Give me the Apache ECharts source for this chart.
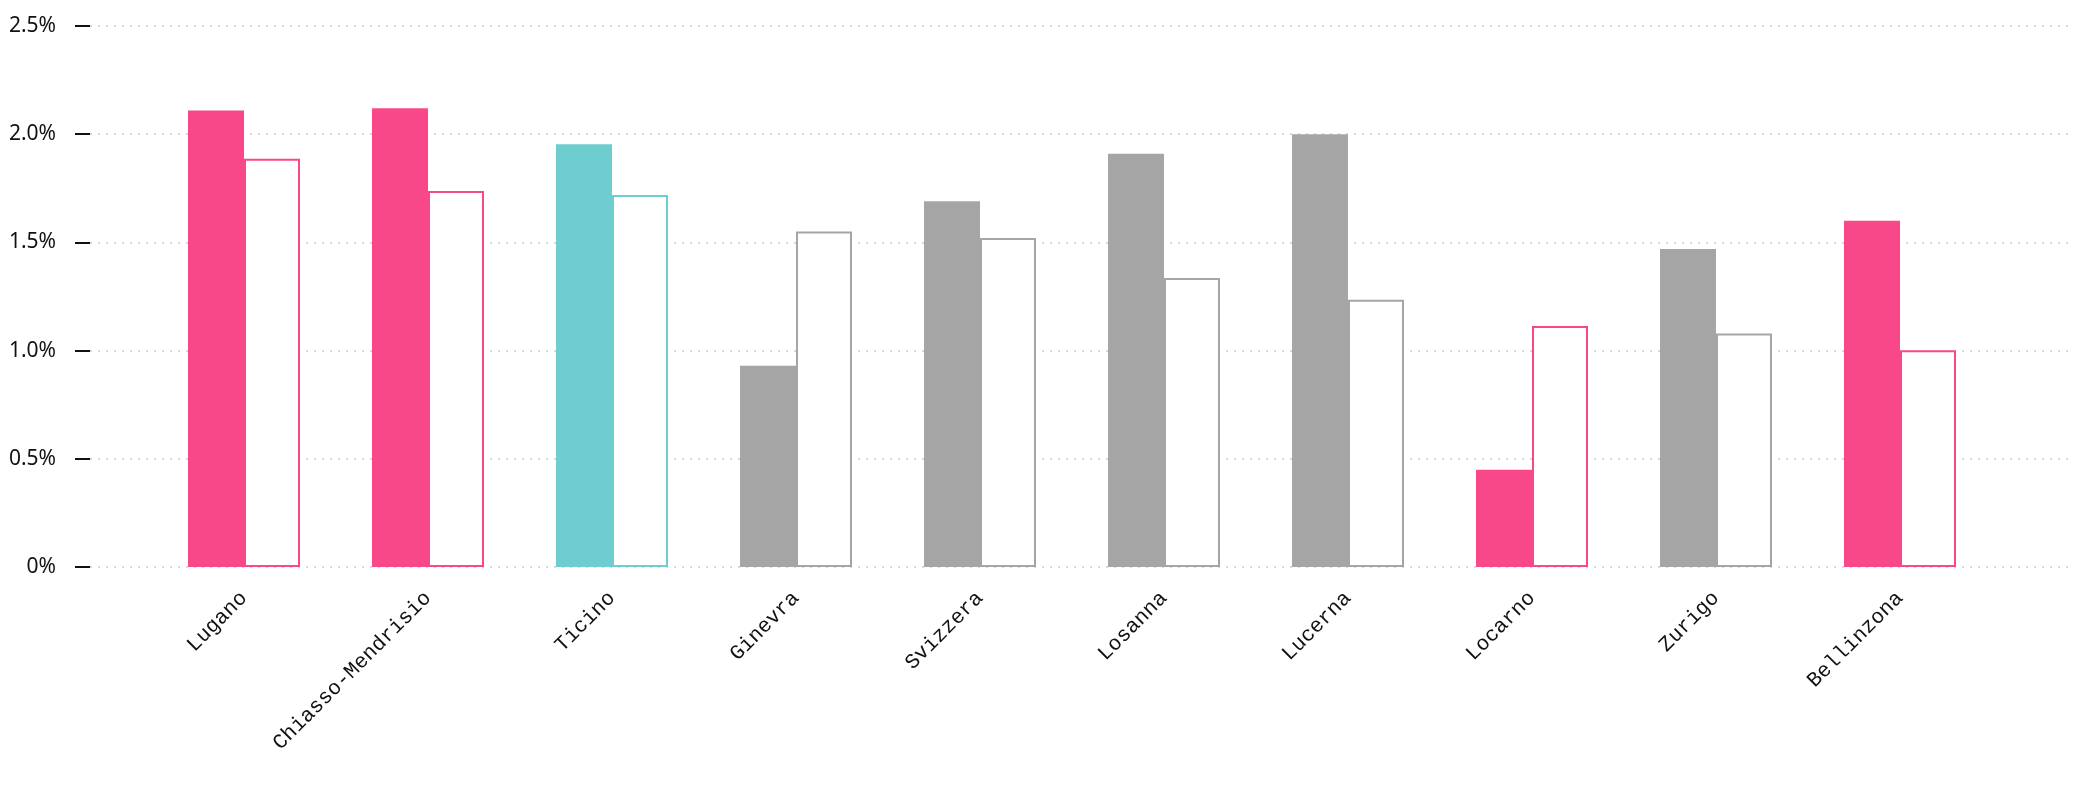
<!DOCTYPE html>
<html><head><meta charset="utf-8">
<script src="https://cdn.jsdelivr.net/npm/echarts@6/dist/echarts.min.js"></script>
<style>html,body{margin:0;background:#fff}#c{width:2076px;height:786px}</style>
</head><body><div id="c"></div>
<script>
const categories = ['Lugano','Chiasso-Mendrisio','Ticino','Ginevra','Svizzera','Losanna','Lucerna','Locarno','Zurigo','Bellinzona'];
const filledValues = [2.11,2.12,1.953,0.93,1.69,1.91,2.0,0.449,1.47,1.6];
const hollowValues = [1.886,1.737,1.719,1.55,1.52,1.335,1.235,1.114,1.079,1.002];
const colorGroup = ['pink','pink','teal','grey','grey','grey','grey','pink','grey','pink'];
const yTicks = [0,0.5,1.0,1.5,2.0,2.5];
const palette = {pink:'#F8488A', teal:'#6ECDCF', grey:'#A5A5A5'};

const chart = echarts.init(document.getElementById('c'));
chart.setOption({
  animation:false,
  grid:[{left:90,right:6,top:26,bottom:219},{left:152,right:84,top:26,bottom:219}],
  xAxis:[
    {gridIndex:0,type:'value',show:false,min:0,max:1},
    {gridIndex:1,type:'category',data:categories,axisLine:{show:false},axisTick:{show:false},
     axisLabel:{rotate:45,margin:28,interval:0,fontFamily:'Liberation Mono',fontSize:21,color:'#111'}}
  ],
  yAxis:[
    {gridIndex:0,type:'value',min:0,max:2.5,interval:0.5,axisLine:{show:false},
     axisTick:{show:true,length:15,lineStyle:{color:'#111',width:2}},
     axisLabel:{margin:34,fontFamily:'Noto Sans',fontSize:21,color:'#111',
       formatter:v=>{const t=yTicks.find(x=>Math.abs(x-v)<1e-9);return t===0?'0%':t.toFixed(1)+'%';}},
     splitLine:{show:true,lineStyle:{color:'#d8d8d8',type:[2,6],width:2}}},
    {gridIndex:1,type:'value',min:0,max:2.5,show:false}
  ],
  series:[
    {type:'bar',xAxisIndex:1,yAxisIndex:1,barWidth:56,barGap:'0%',
     data:filledValues.map((v,i)=>({value:v,itemStyle:{color:palette[colorGroup[i]]}}))},
    {type:'bar',xAxisIndex:1,yAxisIndex:1,barWidth:56,barGap:'0%',
     data:hollowValues.map((v,i)=>({value:v,itemStyle:{color:'#fff',borderColor:palette[colorGroup[i]],borderWidth:2}}))}
  ]
});
</script></body></html>
